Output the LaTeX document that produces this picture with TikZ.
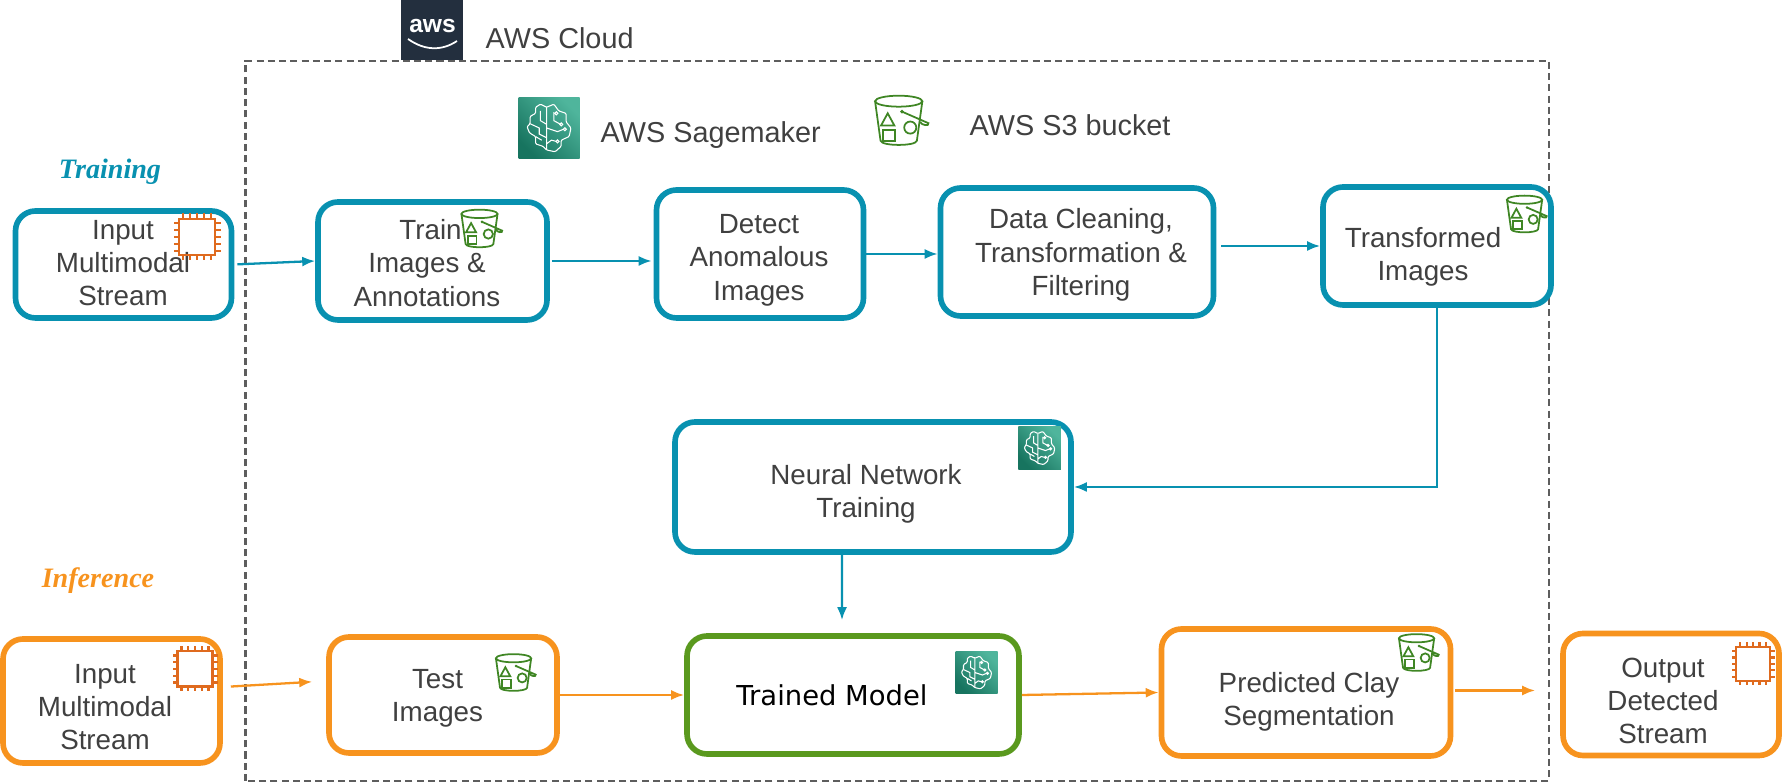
\documentclass[tikz,border=0pt]{standalone}
\usepackage{fontspec}
\setmainfont{Liberation Sans}
\newfontfamily\modelfont{DejaVu Sans}
\newfontfamily\handfont{Liberation Serif}
\usetikzlibrary{arrows.meta}

\definecolor{tealline}{HTML}{0891B0}
\definecolor{orangeline}{HTML}{F7931E}
\definecolor{greenline}{HTML}{5A991E}
\definecolor{bucketgreen}{HTML}{3F8624}
\definecolor{chiporange}{HTML}{DF6A1E}
\definecolor{awsdark}{HTML}{232F3E}
\definecolor{smdark}{HTML}{17745F}
\definecolor{smlight}{HTML}{4FB59C}
\definecolor{labelgray}{HTML}{404040}

\tikzset{
  tealbox/.style={draw=tealline, line width=1.6pt, rounded corners=.2cm},
  orangebox/.style={draw=orangeline, line width=1.6pt, rounded corners=.2cm},
  greenbox/.style={draw=greenline, line width=1.6pt, rounded corners=.2cm},
  boxtext/.style={text=labelgray, align=center, inner sep=0pt, font=\fontsize{7.9}{9.5}\selectfont},
  headtext/.style={text=labelgray, anchor=west, inner sep=0pt, font=\fontsize{8.2}{10}\selectfont},
  handtext/.style={inner sep=0pt, font=\handfont\bfseries\itshape\fontsize{8}{10}\selectfont},
  tealflow/.style={draw=tealline, line width=.65pt, -{Latex[length=1.3mm,width=1mm]}},
  orangeflow/.style={draw=orangeline, line width=.65pt, -{Latex[length=1.3mm,width=1mm]}}
}

% S3 bucket icon: x, y, size
\newcommand{\bucketicon}[3]{
  \begin{scope}[shift={(#1,#2)}, scale=#3, draw=bucketgreen, line width=.5pt]
    \draw (-.06,.36) ellipse (.43 and .1);
    \draw (-.49,.36) -- (-.39,-.36) .. controls (-.37,-.46) and (.25,-.46) .. (.27,-.36) -- (.37,.36);
    \draw (-.26,.14) -- (-.38,-.08) -- (-.14,-.08) -- cycle;
    \draw (-.34,-.36) rectangle (-.13,-.16);
    \draw (.15,-.12) circle (.11);
    \fill[bucketgreen] (0,.17) circle (.035);
    \draw (0,.17) -- (.48,-.04) .. controls (.5,-.1) and (.36,-.08) .. (.33,-.02);
  \end{scope}
}

% processor icon: x, y, size
\newcommand{\chipicon}[3]{
  \begin{scope}[shift={(#1,#2)}, scale=#3, draw=chiporange, line width=.6pt]
    \draw (-.39,-.39) rectangle (.39,.39);
    \foreach \p in {-.3,-.15,0,.15,.3} {
      \draw (\p,.39) -- (\p,.5);
      \draw (\p,-.39) -- (\p,-.5);
      \draw (.39,\p) -- (.5,\p);
      \draw (-.39,\p) -- (-.5,\p);
    }
  \end{scope}
}

% Sagemaker icon: x, y, size
\newcommand{\brainicon}[3]{
  \begin{scope}[shift={(#1,#2)}, scale=#3]
    \shade[bottom color=smdark, top color=smlight, shading angle=-45] (-.5,-.5) rectangle (.5,.5);
    \draw[white, line width=.3pt, rounded corners=.3pt]
      (-.04,.34) -- (-.14,.39) -- (-.22,.34) -- (-.22,.24) -- (-.31,.19) -- (-.31,.07) -- (-.36,.02) -- (-.32,-.08)
      -- (-.22,-.14) -- (-.22,-.26) -- (-.1,-.3) -- (-.04,-.36) -- (.1,-.39) -- (.2,-.3) -- (.2,-.2) -- (.33,-.14)
      -- (.36,.0) -- (.28,.1) -- (.28,.24) -- (.16,.28) -- (.08,.39) -- cycle;
    \draw[white, line width=.3pt]
      (-.04,.34) -- (-.04,-.36)
      (-.14,.28) -- (-.14,.12) -- (-.04,.06)
      (-.31,.07) -- (-.16,.0) -- (-.16,-.1) -- (-.04,-.16)
      (-.22,-.14) -- (-.12,-.2)
      (.08,.26) -- (.08,.12) -- (.19,.06)
      (-.04,.0) -- (.14,-.06) -- (.24,-.02)
      (-.04,-.26) -- (.04,-.2) -- (.12,-.22);
    \foreach \a/\b in {.2/.06, .26/-.02, .14/-.22, .12/.24} {
      \draw[white, line width=.3pt] (\a,\b) circle (.025);
    }
  \end{scope}
}

\begin{document}
\begin{tikzpicture}
  \useasboundingbox (0,0) rectangle (17.82,7.83);

  % AWS Cloud frame
  \draw[draw=labelgray!85, line width=.6pt, dash pattern=on 2pt off 1.2pt] (2.455,.02) rectangle (15.49,7.22);
  \fill[awsdark] (4.01,7.23) rectangle (4.63,7.83);
  \node[text=white, inner sep=0pt, font=\bfseries\fontsize{7}{8}\selectfont] (awslogo) at (4.325,7.57) {aws};
  \draw[white, line width=.5pt] (4.08,7.44) .. controls (4.25,7.32) and (4.42,7.32) .. (4.57,7.42);
  \node[headtext] (cloudtext) at (4.85,7.45) {AWS Cloud};

  % legend in the top of the frame
  \brainicon{5.49}{6.55}{.61}
  \node[headtext] (sagetext) at (6,6.48) {AWS Sagemaker};
  \bucketicon{9.02}{6.62}{.55}
  \node[headtext] (buckettext) at (9.69,6.58) {AWS S3 bucket};

  \node[handtext, text=tealline] (trainhead) at (1.1,6.11) {Training};
  \node[handtext, text=orangeline] (inferhead) at (.98,2.02) {Inference};

  % Training row
  \node[tealbox, minimum width=2.16cm, minimum height=1.07cm] (inA) at (1.235,5.185) {};
  \node[boxtext] (inAtext) at (1.23,5.2) {Input\\Multimodal\\Stream};
  \chipicon{1.97}{5.46}{.47}

  \node[tealbox, minimum width=2.29cm, minimum height=1.18cm] (trainimg) at (4.325,5.22) {};
  \node[boxtext] (trainimgtext) at (4.27,5.2) {\hspace*{.07cm}Train\\Images \&\\Annotations};
  \bucketicon{4.82}{5.54}{.42}

  \node[tealbox, minimum width=2.07cm, minimum height=1.28cm] (detect) at (7.6,5.29) {};
  \node[boxtext] (detecttext) at (7.59,5.23) {Detect\\Anomalous\\Images};

  \node[tealbox, minimum width=2.73cm, minimum height=1.28cm] (clean) at (10.77,5.31) {};
  \node[boxtext] (cleantext) at (10.81,5.28) {Data Cleaning,\\Transformation \&\\Filtering};

  \node[tealbox, minimum width=2.28cm, minimum height=1.18cm] (transformed) at (14.37,5.37) {};
  \node[boxtext] (transformedtext) at (14.23,5.26) {Transformed\\Images};
  \bucketicon{15.27}{5.685}{.41}

  % Neural network in the middle
  \node[tealbox, minimum width=3.96cm, minimum height=1.3cm] (nn) at (8.73,2.96) {};
  \node[boxtext] (nntext) at (8.66,2.89) {Neural Network\\Training};
  \brainicon{10.395}{3.35}{.425}

  % Inference row
  \node[orangebox, minimum width=2.17cm, minimum height=1.24cm] (inB) at (1.115,.82) {};
  \node[boxtext] (inBtext) at (1.05,.76) {Input\\Multimodal\\Stream};
  \chipicon{1.95}{1.14}{.45}

  \node[orangebox, minimum width=2.28cm, minimum height=1.16cm] (test) at (4.43,.88) {};
  \node[boxtext] (testtext) at (4.375,.845) {Test\\Images};
  \bucketicon{5.16}{1.1}{.41}

  \node[greenbox, minimum width=3.32cm, minimum height=1.18cm] (trained) at (8.53,.88) {};
  \node[boxtext, text=black, font=\modelfont\fontsize{7.8}{9.5}\selectfont] (trainedtext) at (8.32,.88) {Trained Model};
  \brainicon{9.765}{1.105}{.42}

  \node[orangebox, minimum width=2.89cm, minimum height=1.27cm] (predicted) at (13.06,.905) {};
  \node[boxtext] (predictedtext) at (13.09,.81) {Predicted Clay\\Segmentation};
  \bucketicon{14.19}{1.3}{.41}

  \node[orangebox, minimum width=2.16cm, minimum height=1.22cm] (output) at (16.71,.885) {};
  \node[boxtext] (outputtext) at (16.63,.82) {Output\\Detected\\Stream};
  \chipicon{17.53}{1.19}{.43}

  % Training arrows
  \draw[tealflow, shorten <=.03cm] (inA.east) -- (trainimg.west);
  \draw[tealflow, shorten >=.02cm] (trainimg.east) ++(.02,0) -- (trainimg.east -| detect.west);
  \draw[tealflow] (detect.east) -- (detect.east -| clean.west);
  \draw[tealflow, shorten <=.05cm] (transformed.west -| clean.east) -- (transformed.west);
  \draw[tealflow] (transformed.south) |- (nn.east);
  \draw[tealflow, shorten >=.13cm] ([xshift=-.31cm]nn.south) -- ([xshift=-.11cm]trained.north);

  % Inference arrows
  \draw[orangeflow, shorten <=.08cm, shorten >=.14cm] ([yshift=.14cm]inB.east) -- ([yshift=.14cm]test.west);
  \draw[orangeflow] (test.east) -- (trained.west);
  \draw[orangeflow] (trained.east) -- (predicted.west);
  \draw[orangeflow, shorten >=.25cm] ([xshift=.02cm,yshift=.02cm]predicted.east) -- ([yshift=.02cm]predicted.east -| output.west);
\end{tikzpicture}
\end{document}
